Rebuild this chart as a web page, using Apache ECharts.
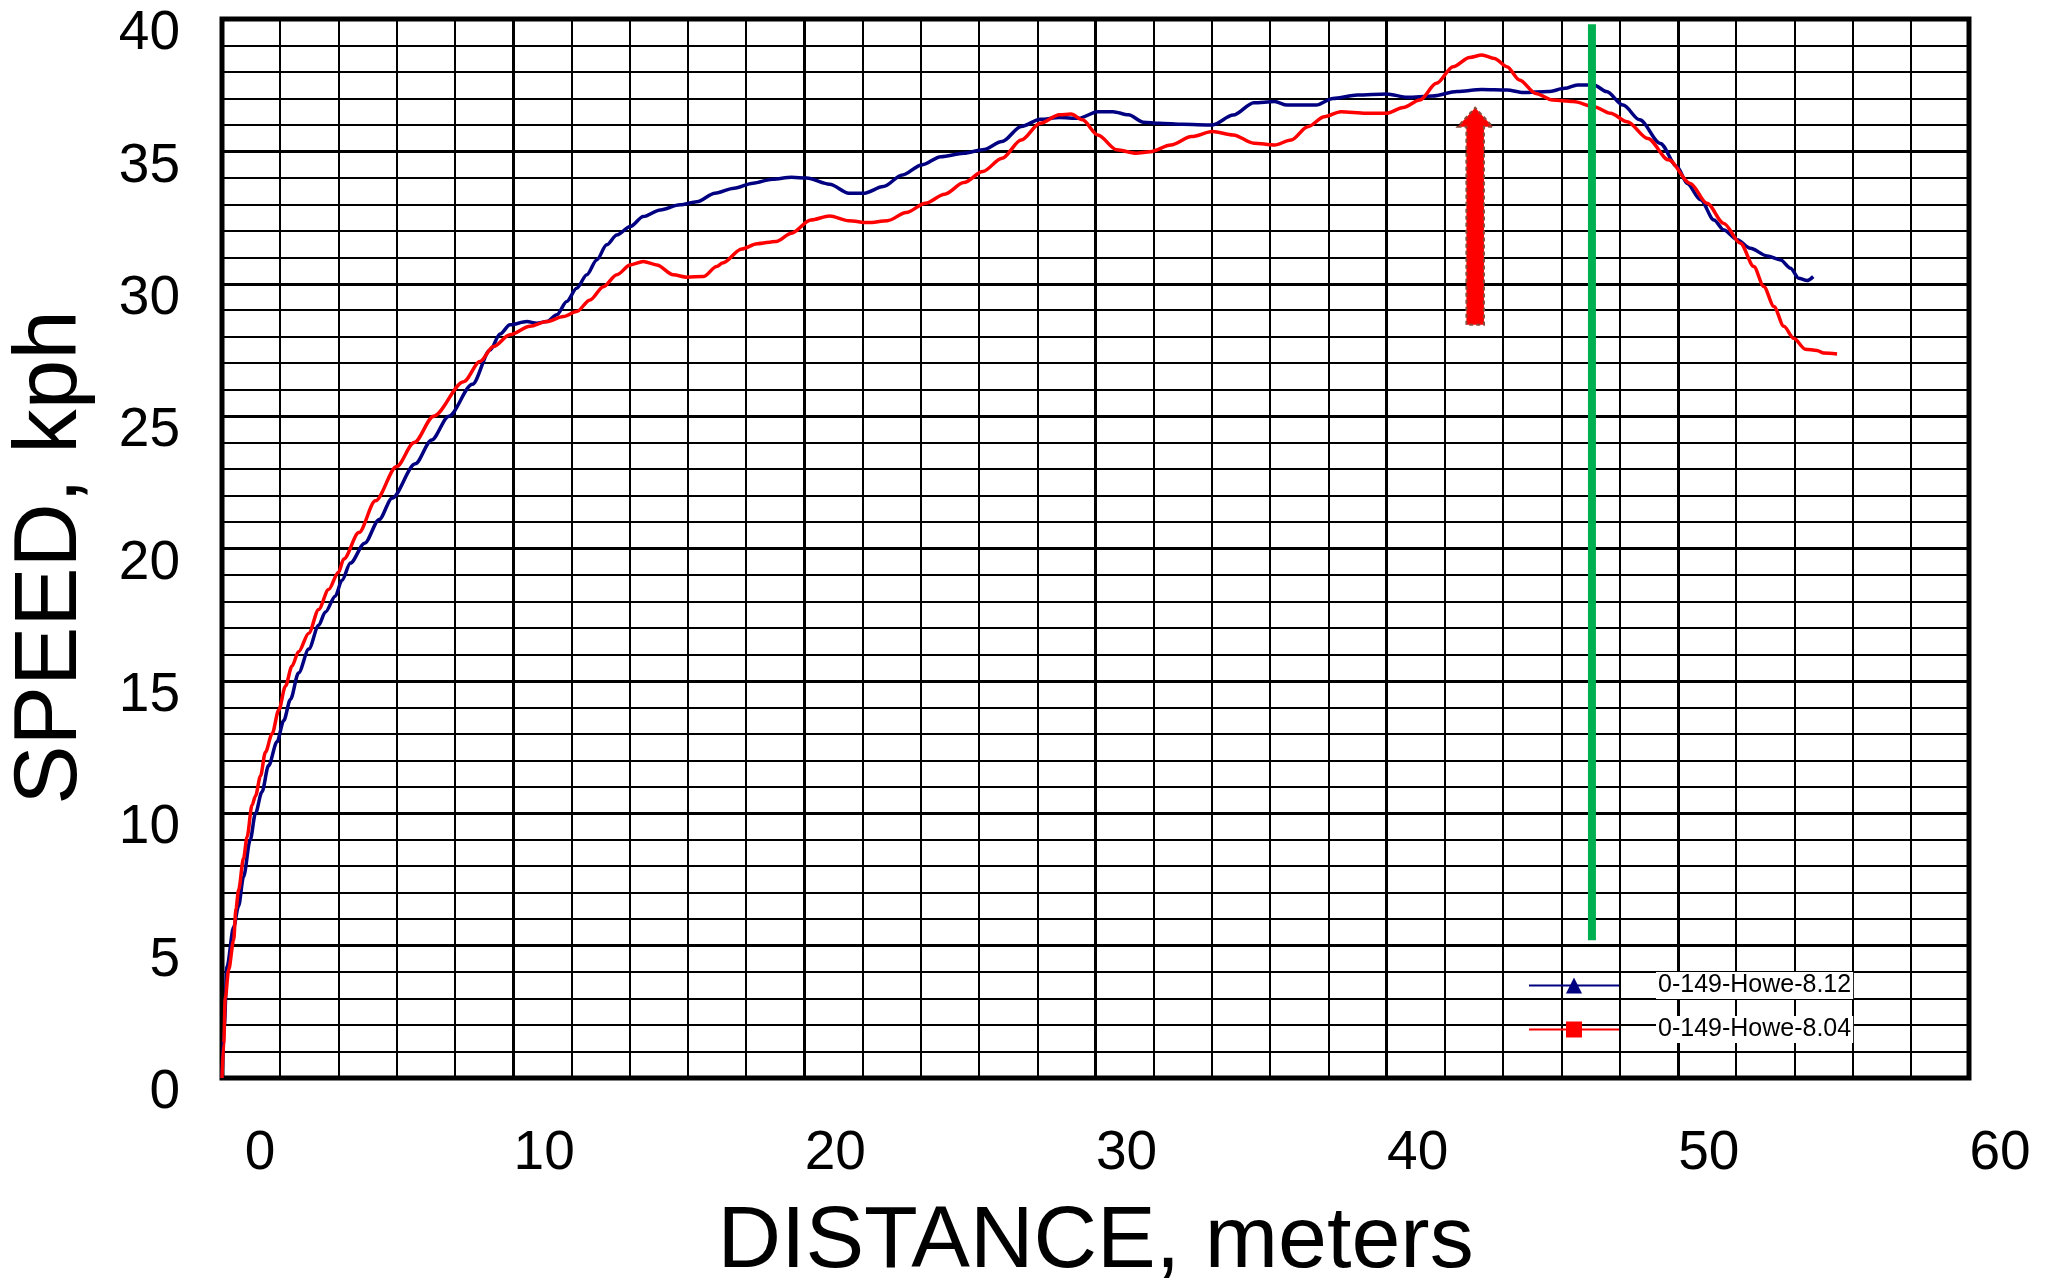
<!DOCTYPE html>
<html>
<head>
<meta charset="utf-8">
<script src="https://cdn.jsdelivr.net/npm/echarts@6/dist/echarts.min.js"></script>
<style>
html,body{margin:0;padding:0;background:#fff;}
#chart{width:2051px;height:1281px;}
</style>
</head>
<body>
<div id="chart"></div>
<script>
// ---- data (distance in meters, speed in kph) ----
const seriesNames = ['0-149-Howe-8.12', '0-149-Howe-8.04'];

const speed812 = [
  [0,0],[0.08,2.0],[0.17,4.2],[0.4,5.7],[0.57,6.5],[0.74,7.6],[0.97,9.0],[1.15,10.0],
  [1.37,10.8],[1.6,11.8],[1.89,12.7],[2.12,13.5],[2.35,14.3],[2.63,15.3],[2.98,16.2],
  [3.32,17.1],[3.55,17.6],[3.89,18.2],[4.12,18.8],[4.41,19.45],[4.9,20.2],[5.4,21.1],
  [5.84,21.9],[6.64,23.2],[7.2,24.1],[7.79,25.0],[8.6,26.2],[9.21,27.5],[9.55,28.1],
  [9.89,28.45],[10.47,28.57],[10.81,28.51],[11.15,28.57],[11.5,28.83],[11.84,29.33],
  [12.18,29.83],[12.53,30.34],[12.87,30.9],[13.21,31.47],[13.56,31.84],[14.02,32.16],
  [14.47,32.54],[15.05,32.79],[15.73,32.98],[16.31,33.1],[16.93,33.42],[17.59,33.61],
  [18.24,33.8],[18.9,33.95],[19.56,34.02],[20.08,33.99],[20.87,33.76],[21.53,33.42],
  [22.06,33.42],[22.71,33.67],[23.37,34.11],[24.03,34.49],[24.69,34.8],[25.48,34.93],
  [26.13,35.06],[26.79,35.37],[27.45,35.94],[28.1,36.21],[28.76,36.28],[29.42,36.25],
  [30.08,36.5],[30.6,36.5],[31.13,36.38],[31.65,36.1],[32.18,36.06],[33.0,36.02],
  [34.02,36.0],[34.73,36.37],[35.44,36.84],[36.15,36.88],[36.58,36.75],[37.58,36.75],
  [38.15,37.0],[39.0,37.13],[40.0,37.17],[40.71,37.04],[41.57,37.09],[42.42,37.26],
  [43.27,37.34],[44.13,37.32],[44.7,37.22],[45.55,37.26],[46.12,37.38],[46.55,37.51],
  [47.12,37.51],[47.55,37.26],[48.12,36.75],[48.69,36.19],[49.4,35.3],[49.97,34.43],
  [50.32,33.79],[50.78,33.17],[51.24,32.41],[51.58,32.03],[52.04,31.66],[52.49,31.34],
  [53.07,31.05],[53.53,30.9],[53.87,30.59],[54.15,30.21],[54.44,30.12],[54.65,30.27]
];

const speed804 = [
  [0,0],[0.06,1.3],[0.11,3.0],[0.23,4.1],[0.4,5.2],[0.48,6.4],[0.57,7.1],[0.74,8.3],
  [0.86,9.1],[1.03,10.3],[1.15,10.65],[1.32,11.4],[1.49,12.3],[1.72,13.0],[1.95,13.9],
  [2.18,14.8],[2.4,15.55],[2.63,16.1],[2.98,16.8],[3.32,17.7],[3.66,18.45],[4.0,19.1],
  [4.18,19.6],[4.7,20.6],[5.27,21.8],[6.0,23.1],[6.6,24.0],[7.27,25.0],[8.3,26.3],
  [8.86,27.06],[9.32,27.63],[9.89,28.07],[10.58,28.39],[11.15,28.57],[11.73,28.76],
  [12.18,28.95],[12.64,29.39],[13.1,29.89],[13.56,30.34],[14.02,30.71],[14.47,30.84],
  [14.93,30.71],[15.5,30.34],[15.96,30.25],[16.53,30.27],[16.99,30.65],[17.19,30.78],
  [17.85,31.31],[18.38,31.51],[19.03,31.6],[19.56,31.91],[20.22,32.41],[20.87,32.56],
  [21.53,32.38],[22.19,32.31],[22.85,32.38],[23.5,32.69],[24.16,33.04],[24.82,33.38],
  [25.48,33.82],[26.13,34.24],[26.79,34.74],[27.45,35.43],[28.1,36.06],[28.76,36.38],
  [29.16,36.41],[29.55,36.19],[30.08,35.62],[30.73,35.06],[31.39,34.93],[31.88,34.99],
  [32.59,35.24],[33.3,35.56],[34.02,35.75],[34.73,35.62],[35.44,35.31],[36.15,35.24],
  [36.72,35.43],[37.29,35.93],[37.86,36.31],[38.43,36.5],[39.29,36.44],[40.0,36.44],
  [40.57,36.66],[41.14,36.94],[41.71,37.57],[42.28,38.2],[42.85,38.55],[43.27,38.64],
  [43.7,38.51],[44.13,38.2],[44.56,37.7],[45.12,37.19],[45.7,36.94],[46.41,36.88],
  [47.12,36.69],[47.69,36.44],[48.26,36.12],[48.97,35.49],[49.68,34.68],[50.43,33.79],
  [51.0,33.04],[51.58,32.28],[52.15,31.53],[52.61,30.65],[52.95,29.9],[53.3,29.14],
  [53.64,28.39],[53.98,27.94],[54.38,27.53],[54.78,27.48],[55.01,27.38],[55.47,27.35]
];

// annotations: green marker line and red arrow (distance, speed from, speed to)
const greenMarker = [[47.05, 5.2], [47.05, 39.8]];
const redArrow = [[43.04, 28.45, 36.65]];

// axes
const xTicks = { min: 0, max: 60, interval: 10 };
const yTicks = { min: 0, max: 40, interval: 5 };
const xTitle = 'DISTANCE, meters';
const yTitle = 'SPEED, kph';

const FONT = '"Liberation Sans", Arial, sans-serif';

const chart = echarts.init(document.getElementById('chart'), null, { renderer: 'canvas' });

chart.setOption({
  backgroundColor: '#ffffff',
  animation: false,
  grid: {
    left: 222, top: 19, right: 82, bottom: 203,
    containLabel: false,
    outerBoundsMode: 'none',
    show: true, borderColor: '#000', borderWidth: 5, backgroundColor: '#fff'
  },
  legend: {
    data: seriesNames,
    orient: 'vertical',
    left: 1528, top: 972, padding: 0,
    itemWidth: 90, itemHeight: 20, itemGap: 17,
    selectedMode: false,
    formatter: function (name) { return '{g| }{t|' + name + '}'; },
    textStyle: {
      fontFamily: FONT, fontSize: 25, color: '#000',
      rich: {
        g: { width: 32, fontSize: 25 },
        t: { fontFamily: FONT, fontSize: 25, color: '#000', backgroundColor: '#fff', padding: [1, 2, 1, 2], lineHeight: 26 }
      }
    }
  },
  xAxis: {
    type: 'value',
    min: xTicks.min, max: xTicks.max, interval: xTicks.interval,
    name: xTitle, nameLocation: 'middle', nameGap: 121,
    nameTextStyle: { fontFamily: FONT, fontSize: 88, color: '#000' },
    axisLine: { show: false },
    axisTick: { show: false },
    axisLabel: {
      fontFamily: FONT, fontSize: 55, color: '#000', margin: 48, padding: [0, 0, 0, 62],
      formatter: function (v) { return v === 0 ? '{z|0}' : String(v); },
      rich: { z: { fontFamily: FONT, fontSize: 55, color: '#000', padding: [0, 0, 0, 14] } }
    },
    splitLine: { show: true, lineStyle: { color: '#000', width: 3 } },
    minorTick: { show: false, splitNumber: 5 },
    minorSplitLine: { show: true, lineStyle: { color: '#000', width: 2 } }
  },
  yAxis: {
    type: 'value',
    min: yTicks.min, max: yTicks.max, interval: yTicks.interval,
    name: yTitle, nameLocation: 'middle', nameGap: 126,
    nameTextStyle: { fontFamily: FONT, fontSize: 89, color: '#000', padding: [0, 18, 0, 0] },
    axisLine: { show: false },
    axisTick: { show: false },
    axisLabel: {
      color: '#000', margin: 42,
      formatter: function (v) { return '{s| }\n{v|' + v + '}'; },
      rich: {
        s: { fontSize: 2, lineHeight: 30 },
        v: { fontFamily: FONT, fontSize: 55, lineHeight: 55, color: '#000' }
      }
    },
    splitLine: { show: true, lineStyle: { color: '#000', width: 3 } },
    minorTick: { show: false, splitNumber: 5 },
    minorSplitLine: { show: true, lineStyle: { color: '#000', width: 2 } }
  },
  series: [
    {
      name: seriesNames[0], type: 'line', data: speed812,
      symbol: 'triangle', showSymbol: false, smooth: 0.3, smoothMonotone: 'x',
      color: '#000080',
      lineStyle: { color: '#000080', width: 3.5 },
      itemStyle: { color: '#000080' },
      z: 3
    },
    {
      name: seriesNames[1], type: 'line', data: speed804,
      symbol: 'rect', showSymbol: false, smooth: 0.3, smoothMonotone: 'x',
      color: '#FF0000',
      lineStyle: { color: '#FF0000', width: 3.5 },
      itemStyle: { color: '#FF0000' },
      z: 4
    },
    {
      name: 'marker', type: 'line', data: greenMarker,
      symbol: 'none', silent: true,
      lineStyle: { color: '#00B050', width: 8 },
      z: 5
    },
    {
      name: 'arrow', type: 'custom', data: redArrow,
      encode: { x: 0, y: [1, 2] }, silent: true, z: 5,
      renderItem: function (params, api) {
        const base = api.coord([api.value(0), api.value(1)]);
        const tip = api.coord([api.value(0), api.value(2)]);
        const sw = 8.8, hw = 17.5, hl = 19;
        const x = base[0];
        const pts = [
          [x - sw, base[1]], [x - sw, tip[1] + hl], [x - hw, tip[1] + hl],
          [x, tip[1]], [x + hw, tip[1] + hl], [x + sw, tip[1] + hl], [x + sw, base[1]]
        ];
        return {
          type: 'polygon',
          shape: { points: pts },
          style: { fill: '#FF0000', stroke: '#8B4A3A', lineWidth: 2, lineDash: [4, 3] }
        };
      }
    }
  ]
});
</script>
</body>
</html>
